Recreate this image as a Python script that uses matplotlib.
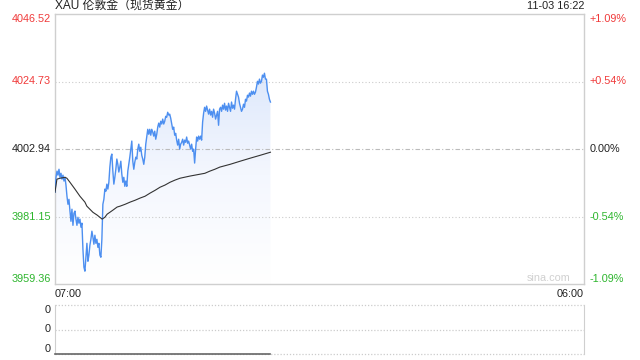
import matplotlib.pyplot as plt
import numpy as np
from matplotlib.colors import LinearSegmentedColormap

plt.rcParams['font.family'] = ['Liberation Sans', 'Noto Sans CJK SC', 'DejaVu Sans']

title = 'XAU 伦敦金（现货黄金）'
stamp = '11-03 16:22'
prev_close = 4002.94
y_ticks = [4046.52, 4024.73, 4002.94, 3981.15, 3959.36]
pct_ticks = ['+1.09%', '+0.54%', '0.00%', '-0.54%', '-1.09%']
session_len = 1380  # minutes, 07:00 -> 06:00
elapsed = 562       # minutes, 07:00 -> 16:22

# price, sampled evenly from 07:00 to 16:22
price = [
    3989.0, 3993.8, 3995.8, 3994.5, 3996.4, 3993.8, 3995.1, 3993.2, 3994.5, 3992.6,
    3993.8, 3991.3, 3987.7, 3985.1, 3986.7, 3982.9, 3979.6, 3983.5, 3978.3, 3982.2,
    3982.9, 3980.3, 3978.3, 3980.9, 3979.0, 3980.3, 3977.7, 3979.0, 3970.6, 3964.8,
    3963.5, 3968.0, 3972.5, 3966.7, 3968.7, 3971.9, 3973.8, 3976.4, 3974.5, 3972.2,
    3975.1, 3972.5, 3973.8, 3971.2, 3972.5, 3968.7, 3968.0, 3973.8, 3985.1, 3986.7,
    3990.0, 3989.3, 3991.6, 3990.0, 3992.2, 3997.1, 4000.3, 4001.3, 3995.8, 3991.6,
    3993.8, 3996.4, 3999.7, 3998.0, 3995.5, 3997.1, 3999.0, 3994.8, 3992.2, 3993.8,
    3990.9, 3992.6, 3990.9, 3995.8, 3998.0, 4000.3, 4002.9, 4005.5, 3999.0, 3996.4,
    3998.7, 4000.3, 3999.7, 4002.9, 4004.5, 4002.2, 4003.5, 4000.9, 3999.7, 3998.0,
    4000.3, 4004.5, 4006.8, 4009.3, 4007.7, 4009.3, 4007.4, 4009.3, 4008.4, 4007.1,
    4008.7, 4006.1, 4007.7, 4010.0, 4011.3, 4010.0, 4011.9, 4011.0, 4012.6, 4011.0,
    4011.9, 4013.5, 4013.2, 4014.8, 4013.9, 4014.2, 4012.9, 4011.0, 4009.3, 4010.0,
    4007.4, 4008.0, 4005.8, 4004.2, 4006.1, 4002.9, 4004.5, 4005.1, 4006.1, 4004.2,
    4005.8, 4005.1, 4006.8, 4004.8, 4005.5, 4004.2, 4002.9, 4004.5, 4002.2, 4002.9,
    3998.4, 4002.9, 4006.8, 4005.5, 4007.1, 4006.1, 4007.1, 4005.8, 4011.6, 4014.5,
    4016.4, 4015.1, 4016.8, 4015.5, 4014.2, 4015.8, 4013.9, 4015.1, 4013.2, 4015.8,
    4014.5, 4012.6, 4013.9, 4015.1, 4010.6, 4015.8, 4016.4, 4015.1, 4017.1, 4015.8,
    4017.7, 4015.5, 4016.8, 4015.1, 4017.7, 4016.4, 4015.1, 4018.1, 4016.1, 4017.1,
    4015.8, 4019.0, 4021.6, 4020.6, 4019.7, 4017.7, 4016.4, 4015.1, 4015.8, 4017.4,
    4016.4, 4019.0, 4018.4, 4020.3, 4019.7, 4021.0, 4020.0, 4021.6, 4020.6, 4021.6,
    4020.6, 4021.3, 4022.9, 4024.8, 4023.9, 4025.5, 4024.2, 4024.8, 4026.8, 4026.1,
    4027.4, 4025.5, 4025.5, 4021.6, 4020.6, 4019.0, 4018.1,
]

# average price line (minute, price)
avg_min = [0, 5, 13, 26, 31, 39, 52, 65, 78, 83, 91, 99, 110, 123, 130, 136, 143,
           151, 162, 170, 183, 196, 209, 222, 235, 248, 261, 274, 287, 300, 313,
           326, 352, 378, 391, 404, 417, 430, 457, 483, 509, 535, 562]
avg_price = [3989.0, 3993.2, 3993.5, 3993.8, 3993.5, 3992.2, 3990.0, 3987.7, 3985.8,
             3984.5, 3983.5, 3982.5, 3981.6, 3980.3, 3980.9, 3981.9, 3982.5, 3983.2,
             3984.2, 3984.5, 3985.1, 3985.8, 3986.4, 3987.1, 3987.7, 3988.7, 3989.6,
             3990.6, 3991.3, 3992.2, 3992.9, 3993.5, 3994.2, 3994.8, 3995.1, 3995.8,
             3996.4, 3997.1, 3998.0, 3999.0, 3999.97, 4000.9, 4001.9]

t = np.linspace(0, elapsed, len(price))
volume = np.zeros(len(price))

red = '#f03a3a'
green = '#2db52d'
grey = '#cfcfcf'
fs = 7.8

fig = plt.figure(figsize=(6.4, 3.6), dpi=100)
ax = fig.add_axes([55 / 640, 1 - 284 / 360, 529 / 640, 270 / 360])
vax = fig.add_axes([55 / 640, 1 - 354 / 360, 529 / 640, 49 / 360])

lo, hi = y_ticks[-1], y_ticks[0]
ax.set_xlim(0, session_len)
ax.set_ylim(lo, hi)

# gradient area under the price line
cmap = LinearSegmentedColormap.from_list('fade', ['#ffffff', '#f4f7fe', '#dce7fb'])
grad = np.linspace(0, 1, 256).reshape(-1, 1)
im = ax.imshow(grad, cmap=cmap, origin='lower', aspect='auto',
               extent=[0, elapsed, lo, 4030], zorder=1)
poly = ax.fill_between(t, price, lo, color='none', lw=0)
im.set_clip_path(poly.get_paths()[0], transform=ax.transData)

ax.plot(t, price, color='#4d8ff0', lw=1.0, zorder=3)
ax.plot(avg_min, avg_price, color='#333333', lw=0.8, zorder=4)

for v in (y_ticks[1], y_ticks[3]):
    ax.axhline(v, color='#cccccc', lw=0.8, ls=(0, (1, 2)), zorder=2)
ax.axhline(prev_close, color='#bbbbbb', lw=0.8, ls=(0, (4, 2, 1, 2)), zorder=2)

for s in ax.spines.values():
    s.set_color(grey)
    s.set_linewidth(1)
ax.set_xticks([])
ax.set_yticks([])

ytr = ax.get_yaxis_transform()
colors = [red, red, '#222222', green, green]
vas = ['top', 'center', 'center', 'center', 'bottom']
for v, p, c, va in zip(y_ticks, pct_ticks, colors, vas):
    ax.text(-0.008, v, f'{v:.2f}', transform=ytr, ha='right', va=va, color=c, fontsize=fs)
    ax.text(1.011, v, p, transform=ytr, ha='left', va=va, color=c, fontsize=fs)

ax.text(0, 1.01, title, transform=ax.transAxes, ha='left', va='bottom',
        fontsize=fs + 0.8, color='#222222')
ax.text(1, 1.012, stamp, transform=ax.transAxes, ha='right', va='bottom',
        fontsize=fs, color='#222222')
ax.text(0, -0.018, '07:00', transform=ax.transAxes, ha='left', va='top',
        fontsize=fs, color='#222222')
ax.text(1, -0.018, '06:00', transform=ax.transAxes, ha='right', va='top',
        fontsize=fs, color='#222222')
ax.text(0.975, 0.005, 'sina.com', transform=ax.transAxes, ha='right', va='bottom',
        fontsize=fs, color='#d0d0d0')

# volume panel
vax.set_xlim(0, session_len)
vax.set_ylim(0, 1)
for s in ('top', 'bottom'):
    vax.spines[s].set_visible(False)
vax.spines['left'].set_color(grey)
vax.spines['right'].set_color(grey)
for v in (0, 0.5, 1):
    vax.axhline(v, color='#cccccc', lw=0.9, ls=(0, (1, 1.5)), clip_on=False)
vax.plot(t, volume, color='#666666', lw=1.2, clip_on=False, zorder=3)
vax.set_xticks([])
vax.set_yticks([])
for v, va in zip((1, 0.5, 0), ('top', 'center', 'bottom')):
    vax.text(-0.008, v, '0', transform=vax.get_yaxis_transform(), ha='right', va=va,
             fontsize=fs, color='#222222')

fig.savefig('out.png', dpi=100)
